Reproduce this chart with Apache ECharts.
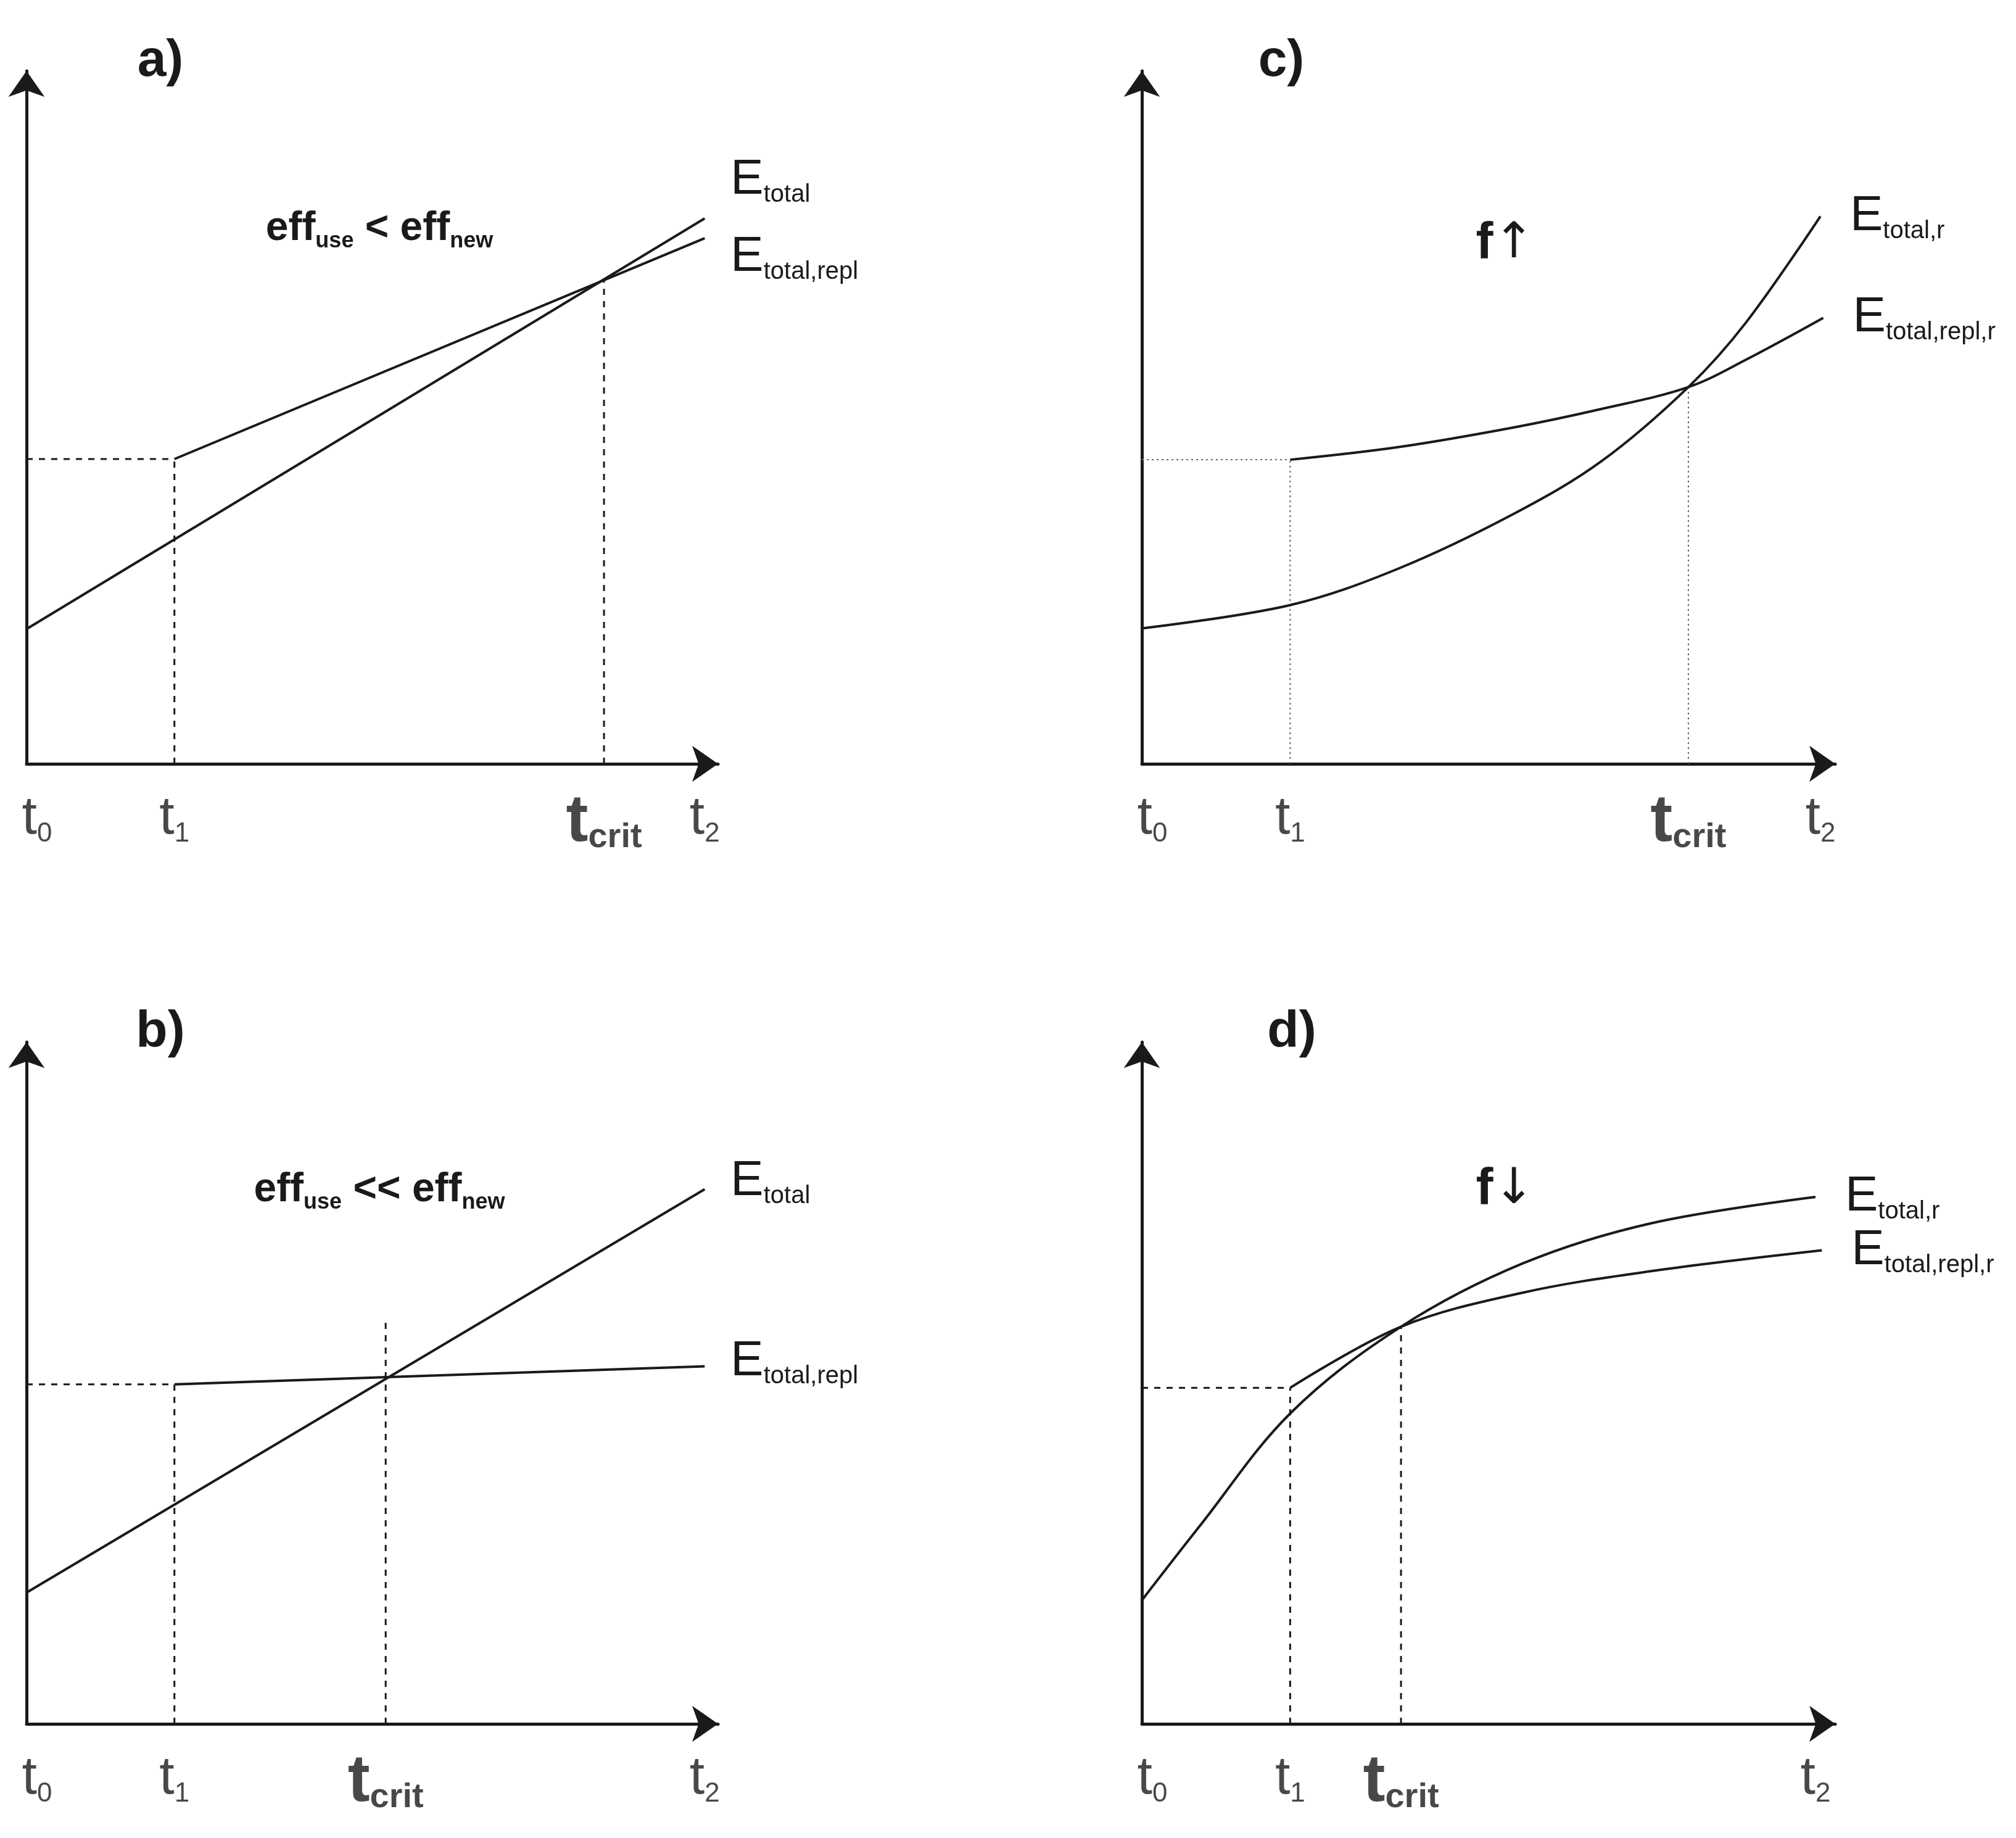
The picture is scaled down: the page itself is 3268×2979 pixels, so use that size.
<!DOCTYPE html>
<html>
<head>
<meta charset="utf-8">
<script src="https://cdn.jsdelivr.net/npm/echarts@6/dist/echarts.min.js"></script>
<style>
  html, body { margin: 0; padding: 0; background: #fff; }
  #chart { width: 3268px; height: 2979px; }
</style>
</head>
<body>
<div id="chart"></div>
<script>
// ---- data (axis units: 0..100 of each panel's axis length) ----
var tickNames = ['0', '1', 'crit', '2'];
var aTickX = [0, 21, 82, 96.3];
var bTickX = [0, 21, 51, 96.3];
var cTickX = [0, 21, 77.4, 96.1];
var dTickX = [0, 21, 36.7, 95.4];

var aTotal = [[0, 19.1], [96.3, 77.3]];
var aRepl = [[21, 43.2], [96.3, 74.5]];
var bTotal = [[0, 18.9], [96.3, 77.0]];
var bRepl = [[21, 48.9], [96.3, 51.5]];
var cTotal = [[0, 19.2], [21, 22.5], [36.4, 27.7], [52.8, 35.5], [65.1, 42.9], [77.4, 53.4], [85.6, 62.6], [96.1, 77.6]];
var cRepl = [[21, 43.1], [36.4, 44.9], [52.8, 47.7], [65.1, 50.3], [77.4, 53.4], [85.6, 57.3], [96.5, 63.2]];
var dTotal = [[0, 17.8], [8.2, 28.5], [21, 44.7], [36.7, 57.2], [53.9, 66.3], [72.1, 72.1], [95.4, 75.9]];
var dRepl = [[21, 48.4], [36.7, 57.2], [53.9, 62.1], [72.1, 65.2], [96.3, 68.2]];

// guide heights: [level of replacement start, top of t_crit line]
var aGuide = [43.2, 68.5];
var bGuide = [48.9, 58.3];
var cGuide = [43.1, 53.4];
var dGuide = [48.4, 57.2];

var panelTitles = ['a)', 'b)', 'c)', 'd)'];

(function() {
    var chart = echarts.init(document.getElementById('chart'), null, { renderer: 'canvas' });
    var font = '"Liberation Sans Narrow", "Liberation Sans", Arial, sans-serif';
    var ink = '#1a1a1a';

    var grids = [
        { left: 43, top: 115, width: 1121, height: 1123 },
        { left: 43, top: 1689, width: 1121, height: 1105 },
        { left: 1851, top: 115, width: 1124, height: 1123 },
        { left: 1851, top: 1689, width: 1124, height: 1105 }
    ];

    function axis(i) {
        return {
            type: 'value', gridIndex: i, min: 0, max: 98.2,
            axisLine: { show: true, symbol: ['none', 'arrow'], symbolSize: [44, 42], lineStyle: { color: ink, width: 5 } },
            axisTick: { show: false }, axisLabel: { show: false }, splitLine: { show: false }
        };
    }

    var eRich = {
        e: { fontSize: 80, fontFamily: font, color: ink, lineHeight: 80 },
        s: { fontSize: 40, fontFamily: font, color: ink, lineHeight: 40, padding: [48, 0, 0, 0] }
    };
    var tRich = {
        t: { fontSize: 88, fontFamily: font, color: ink, lineHeight: 88 },
        s: { fontSize: 44, fontFamily: font, color: ink, lineHeight: 44, padding: [50, 0, 0, 0] },
        tb: { fontSize: 108, fontWeight: 'bold', fontFamily: font, color: ink, lineHeight: 100 },
        sb: { fontSize: 56, fontWeight: 'bold', fontFamily: font, color: ink, lineHeight: 56, padding: [50, 0, 0, 0] }
    };

    function curve(i, data, sub, offset, smooth) {
        return {
            type: 'line', xAxisIndex: i, yAxisIndex: i, data: data, smooth: smooth ? 0.35 : false,
            symbol: 'none', silent: true, animation: false,
            lineStyle: { color: ink, width: 4 },
            endLabel: { show: true, formatter: '{e|E}{s|' + sub + '}', rich: eRich, offset: offset }
        };
    }

    function guides(i, tickX, g, dotted) {
        var style = dotted
            ? { color: '#666', width: 2, type: [3, 5] }
            : { color: ink, width: 3, type: [10, 10] };
        var segs = [
            [[0, g[0]], [tickX[1], g[0]]],
            [[tickX[1], 0], [tickX[1], g[0]]],
            [[tickX[2], 0], [tickX[2], g[1]]]
        ];
        return segs.map(function(s) {
            return { type: 'line', xAxisIndex: i, yAxisIndex: i, data: s, symbol: 'none', silent: true, animation: false, lineStyle: style, z: 1 };
        });
    }

    function ticks(i, tickX) {
        return {
            type: 'scatter', xAxisIndex: i, yAxisIndex: i, symbolSize: 0, silent: true, animation: false,
            data: tickX.map(function(x, k) {
                var bold = tickNames[k] === 'crit';
                return {
                    value: [x, 0],
                    label: {
                        show: true, position: 'bottom', distance: 45,
                        offset: [k === 0 ? 17 : 0, 0],
                        formatter: bold ? '{tb|t}{sb|crit}' : '{t|t}{s|' + tickNames[k] + '}',
                        rich: tRich
                    }
                };
            })
        };
    }

    var series = [];
    series = series.concat(guides(0, aTickX, aGuide, false), guides(1, bTickX, bGuide, false),
        guides(2, cTickX, cGuide, true), guides(3, dTickX, dGuide, false));
    series.push(curve(0, aTotal, 'total', [34, -62], false));
    series.push(curve(0, aRepl, 'total,repl', [34, 31], false));
    series.push(curve(1, bTotal, 'total', [34, -13], false));
    series.push(curve(1, bRepl, 'total,repl', [34, -8], false));
    series.push(curve(2, cTotal, 'total,r', [40, 0], true));
    series.push(curve(2, cRepl, 'total,repl,r', [40, 0], true));
    series.push(curve(3, dTotal, 'total,r', [40, 0], true));
    series.push(curve(3, dRepl, 'total,repl,r', [40, 0], true));
    series.push(ticks(0, aTickX), ticks(1, bTickX), ticks(2, cTickX), ticks(3, dTickX));

    var titlePos = [[260, 100], [260, 1674], [2077, 100], [2094, 1674]];
    var graphics = panelTitles.map(function(t, i) {
        return {
            type: 'text', x: titlePos[i][0], y: titlePos[i][1],
            style: { text: t, fontSize: 84, fontWeight: 'bold', fontFamily: font, fill: ink, textAlign: 'center', textVerticalAlign: 'middle' }
        };
    });
    var effRich = {
        b: { fontSize: 66, fontWeight: 'bold', fontFamily: font, fill: ink, lineHeight: 66 },
        s: { fontSize: 36, fontWeight: 'bold', fontFamily: font, fill: ink, lineHeight: 36, padding: [40, 0, 0, 0] },
        f: { fontSize: 84, fontWeight: 'bold', fontFamily: font, fill: ink, lineHeight: 84 },
        ar: { fontSize: 80, fontFamily: '"DejaVu Sans", sans-serif', fill: ink, lineHeight: 84 }
    };
    graphics.push(
        { type: 'text', x: 615, y: 371, style: { text: '{b|eff}{s|use}{b| < eff}{s|new}', rich: effRich, textAlign: 'center', textVerticalAlign: 'middle' } },
        { type: 'text', x: 615, y: 1929, style: { text: '{b|eff}{s|use}{b| << eff}{s|new}', rich: effRich, textAlign: 'center', textVerticalAlign: 'middle' } },
        { type: 'text', x: 2440, y: 396, style: { text: '{f|f}{ar|↑}', rich: effRich, textAlign: 'center', textVerticalAlign: 'middle' } },
        { type: 'text', x: 2440, y: 1929, style: { text: '{f|f}{ar|↓}', rich: effRich, textAlign: 'center', textVerticalAlign: 'middle' } }
    );

    chart.setOption({
        backgroundColor: '#fff',
        animation: false,
        grid: grids,
        xAxis: [axis(0), axis(1), axis(2), axis(3)],
        yAxis: [axis(0), axis(1), axis(2), axis(3)],
        series: series,
        graphic: graphics
    });

    window.addEventListener('resize', function() { chart.resize(); });
})();
</script>
</body>
</html>
